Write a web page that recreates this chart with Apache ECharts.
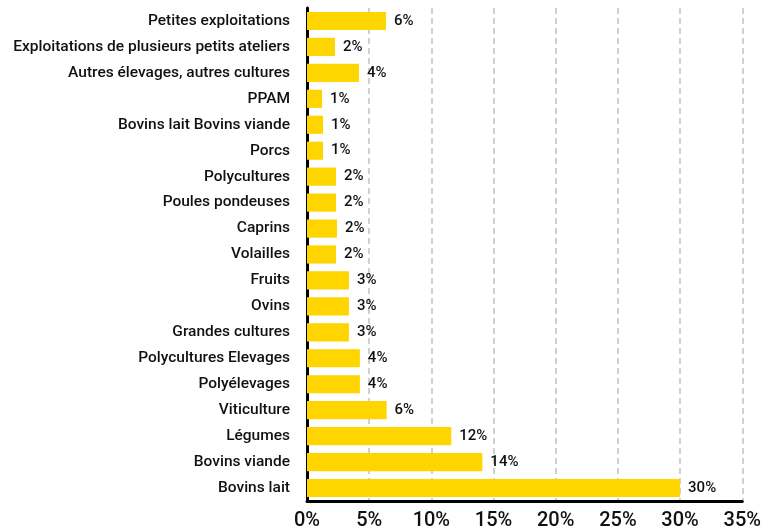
<!DOCTYPE html>
<html><head><meta charset="utf-8">
<script src="https://cdn.jsdelivr.net/npm/echarts@6/dist/echarts.min.js"></script>
<style>html,body{margin:0;padding:0;background:#fff}#c{width:764px;height:531px}</style>
</head><body><div id="c"></div>
<script>
// categories listed bottom to top
const categories = ["Bovins lait","Bovins viande","Légumes","Viticulture","Polyélevages","Polycultures Elevages","Grandes cultures","Ovins","Fruits","Volailles","Caprins","Poules pondeuses","Polycultures","Porcs","Bovins lait Bovins viande","PPAM","Autres élevages, autres cultures","Exploitations de plusieurs petits ateliers","Petites exploitations"];
const values = [30.0,14.1,11.6,6.4,4.25,4.25,3.37,3.37,3.37,2.33,2.41,2.33,2.33,1.29,1.29,1.21,4.18,2.25,6.35];
const xTicks = [0,5,10,15,20,25,30,35];

const chart = echarts.init(document.getElementById('c'), null, {renderer:'canvas'});
chart.setOption({
  animation:false,
  grid:{left:307,right:21,top:8,bottom:28,containLabel:false},
  xAxis:{type:'value',min:xTicks[0],max:xTicks[xTicks.length-1],interval:5,
    axisLine:{show:true,lineStyle:{color:'#000',width:3}},
    axisTick:{show:false},
    axisLabel:{formatter:v=>v+'%',fontFamily:'Roboto',fontWeight:500,fontSize:20,color:'#111',margin:10},
    splitLine:{show:true,lineStyle:{color:'#d0d0d0',width:2,type:[6,4]}}},
  yAxis:{type:'category',data:categories,
    axisLine:{show:true,lineStyle:{color:'#000',width:3}},
    axisTick:{show:false},
    axisLabel:{fontFamily:'Roboto',fontWeight:500,fontSize:15.5,color:'#111',margin:17}},
  series:[{type:'bar',data:values,barCategoryGap:'30%',
    itemStyle:{color:'#FFD500'},
    label:{show:true,position:'right',distance:8,formatter:p=>Math.round(p.value)+'%',
      fontFamily:'Roboto',fontWeight:500,fontSize:15,color:'#111'}}]
});
</script></body></html>
